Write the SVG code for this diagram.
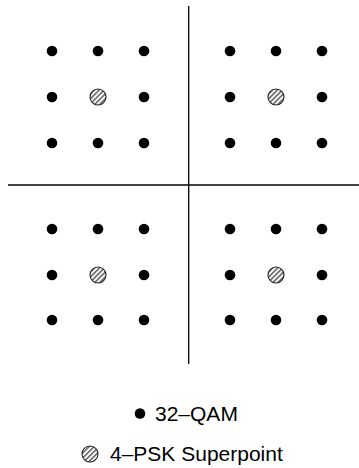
<svg xmlns="http://www.w3.org/2000/svg" width="359" height="468" viewBox="0 0 359 468">
<style>
.d{fill:#000}
.s{fill:url(#hatch);stroke:#222;stroke-width:1.1}
.ax{stroke:#000;stroke-width:1.3;fill:none}
text{font-family:"Liberation Sans",Arial,sans-serif;font-size:21px;fill:#000}
</style>
<defs>
<pattern id="hatch" patternUnits="userSpaceOnUse" width="3.5" height="3.5" patternTransform="rotate(45)">
<rect width="3.5" height="3.5" fill="#fff"/>
<line x1="0.8" y1="0" x2="0.8" y2="3.5" stroke="#444" stroke-width="1.3"/>
</pattern>
</defs>
<rect width="359" height="468" fill="#fff"/>
<g id="axes">
<line class="ax" x1="188.7" y1="6" x2="188.7" y2="364"/>
<line class="ax" x1="8" y1="185" x2="359" y2="185"/>
</g>
<g id="q1">
<circle class="d" cx="52" cy="51" r="5.3"/><circle class="d" cx="98" cy="51" r="5.3"/><circle class="d" cx="144" cy="51" r="5.3"/>
<circle class="d" cx="52" cy="97" r="5.3"/><circle class="s" cx="98" cy="97" r="8"/><circle class="d" cx="144" cy="97" r="5.3"/>
<circle class="d" cx="52" cy="143" r="5.3"/><circle class="d" cx="98" cy="143" r="5.3"/><circle class="d" cx="144" cy="143" r="5.3"/>
</g>
<g id="q2">
<circle class="d" cx="230" cy="51" r="5.3"/><circle class="d" cx="276" cy="51" r="5.3"/><circle class="d" cx="322" cy="51" r="5.3"/>
<circle class="d" cx="230" cy="97" r="5.3"/><circle class="s" cx="276" cy="97" r="8"/><circle class="d" cx="322" cy="97" r="5.3"/>
<circle class="d" cx="230" cy="143" r="5.3"/><circle class="d" cx="276" cy="143" r="5.3"/><circle class="d" cx="322" cy="143" r="5.3"/>
</g>
<g id="q3">
<circle class="d" cx="52" cy="229" r="5.3"/><circle class="d" cx="98" cy="229" r="5.3"/><circle class="d" cx="144" cy="229" r="5.3"/>
<circle class="d" cx="52" cy="275" r="5.3"/><circle class="s" cx="98" cy="275" r="8"/><circle class="d" cx="144" cy="275" r="5.3"/>
<circle class="d" cx="52" cy="320" r="5.3"/><circle class="d" cx="98" cy="320" r="5.3"/><circle class="d" cx="144" cy="320" r="5.3"/>
</g>
<g id="q4">
<circle class="d" cx="230" cy="229" r="5.3"/><circle class="d" cx="276" cy="229" r="5.3"/><circle class="d" cx="322" cy="229" r="5.3"/>
<circle class="d" cx="230" cy="275" r="5.3"/><circle class="s" cx="276" cy="275" r="8"/><circle class="d" cx="322" cy="275" r="5.3"/>
<circle class="d" cx="230" cy="320" r="5.3"/><circle class="d" cx="276" cy="320" r="5.3"/><circle class="d" cx="322" cy="320" r="5.3"/>
</g>
<g id="legend-qam">
<circle class="d" cx="140" cy="413.5" r="5.3"/>
<text x="155" y="421">32–QAM</text>
</g>
<g id="legend-psk">
<circle class="s" cx="90" cy="454" r="8"/>
<text x="110" y="461">4–PSK Superpoint</text>
</g>
</svg>
